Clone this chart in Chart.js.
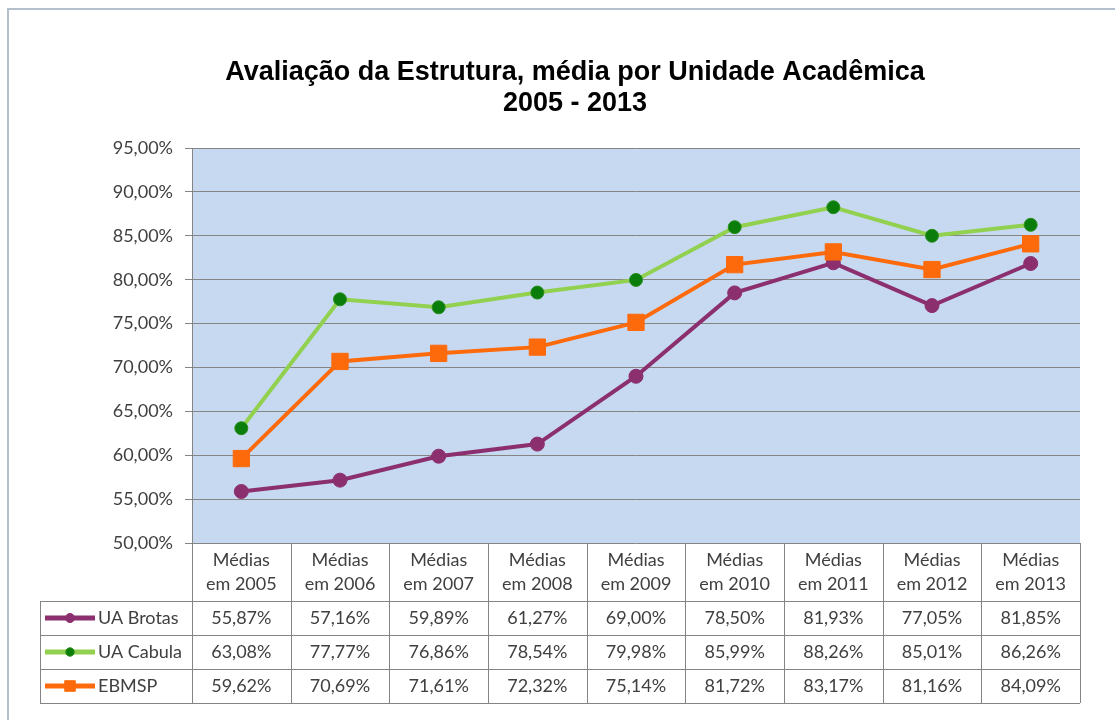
<!DOCTYPE html>
<html>
<head>
<meta charset="utf-8">
<script src="https://cdn.jsdelivr.net/npm/chart.js@4.4.1/dist/chart.umd.min.js"></script>
<style>
  body { margin: 0; background: #fff; }
  #wrap { width: 1115px; height: 720px; }
</style>
</head>
<body>
<div id="wrap"><canvas id="chart" width="1115" height="720"></canvas></div>
<script>
// categories (two lines each, like the Excel data table header)
const years = ['2005', '2006', '2007', '2008', '2009', '2010', '2011', '2012', '2013']
const categories = years.map(y => ['Médias', 'em ' + y])

const seriesNames = ['UA Brotas', 'UA Cabula', 'EBMSP']
const brotas = [55.87, 57.16, 59.89, 61.27, 69.00, 78.50, 81.93, 77.05, 81.85]
const cabula = [63.08, 77.77, 76.86, 78.54, 79.98, 85.99, 88.26, 85.01, 86.26]
const ebmsp = [59.62, 70.69, 71.61, 72.32, 75.14, 81.72, 83.17, 81.16, 84.09]

const yMin = 50
const yMax = 95
const yStep = 5

const fmt = v => v.toFixed(2).replace('.', ',') + '%'
const textFont = '18px Lato'
const textColor = '#404040'
const lineGray = '#858585'

// plot area background + outer frame
const background = {
    id: 'background',
    beforeDraw(chart) {
        const ctx = chart.ctx
        const a = chart.chartArea
        ctx.save()
        ctx.strokeStyle = '#b3bfcd'
        ctx.lineWidth = 2
        ctx.strokeRect(8, 9, 1200, 800)
        ctx.fillStyle = '#c6d9f1'
        ctx.fillRect(a.left, a.top, a.right - a.left, a.bottom - a.top)
        ctx.restore()
    }
}

// data table under the plot, columns taken from the x scale
const dataTable = {
    id: 'dataTable',
    afterDraw(chart) {
        const ctx = chart.ctx
        const x = chart.scales.x
        const a = chart.chartArea
        const n = categories.length
        const step = (a.right - a.left) / n
        const top = a.bottom
        const headH = 58
        const rowH = 34
        const keyLeft = 40
        const bottom = top + headH + rowH * 3

        ctx.save()
        ctx.strokeStyle = lineGray
        ctx.lineWidth = 1
        ctx.beginPath()
        // vertical lines of category columns
        for (let i = 0; i <= n; i++) {
            const px = Math.round(a.left + i * step) + 0.5
            ctx.moveTo(px, top)
            ctx.lineTo(px, bottom)
        }
        ctx.moveTo(keyLeft + 0.5, top + headH)
        ctx.lineTo(keyLeft + 0.5, bottom)
        // horizontal lines
        for (let r = 0; r <= 3; r++) {
            const py = Math.round(top + headH + r * rowH) + 0.5
            ctx.moveTo(keyLeft, py)
            ctx.lineTo(a.right, py)
        }
        ctx.stroke()

        ctx.font = textFont
        ctx.fillStyle = textColor
        ctx.textAlign = 'center'
        ctx.textBaseline = 'middle'
        categories.forEach((lab, i) => {
            const cx = x.getPixelForValue(i)
            ctx.fillText(lab[0], cx, top + 17)
            ctx.fillText(lab[1], cx, top + 41)
        })

        const rows = [brotas, cabula, ebmsp]
        rows.forEach((vals, r) => {
            const cy = top + headH + r * rowH + rowH / 2
            vals.forEach((v, i) => {
                ctx.fillText(fmt(v), x.getPixelForValue(i), cy)
            })
        })

        // legend keys
        chart.data.datasets.forEach((ds, r) => {
            const cy = top + headH + r * rowH + rowH / 2
            ctx.strokeStyle = ds.borderColor
            ctx.lineWidth = 5
            ctx.beginPath()
            ctx.moveTo(45, cy)
            ctx.lineTo(95, cy)
            ctx.stroke()
            ctx.fillStyle = ds.pointBackgroundColor
            ctx.strokeStyle = ds.pointBorderColor
            ctx.lineWidth = 1
            Chart.helpers.drawPoint(ctx, {
                pointStyle: ds.pointStyle,
                radius: ds.pointRadius * 0.65,
                borderWidth: ds.pointBorderWidth,
                rotation: 0
            }, 70, cy)
            ctx.fillStyle = textColor
            ctx.textAlign = 'left'
            ctx.fillText(seriesNames[r], 98, cy)
        })
        ctx.restore()
    }
}

let ctx = document.getElementById('chart')

let chart = new Chart(ctx, {
    type: 'line',
    data: {
        labels: categories,
        datasets: [
            {
                label: seriesNames[0],
                data: brotas,
                order: 3,
                borderColor: '#8c2f6f',
                borderWidth: 4,
                pointStyle: 'circle',
                pointRadius: 7,
                pointBackgroundColor: '#8c2f6f',
                pointBorderColor: '#8c2f6f',
                pointBorderWidth: 1
            },
            {
                label: seriesNames[1],
                data: cabula,
                order: 2,
                borderColor: '#92d050',
                borderWidth: 4,
                pointStyle: 'circle',
                pointRadius: 6.5,
                pointBackgroundColor: '#0a7d0a',
                pointBorderColor: '#2a8f1a',
                pointBorderWidth: 1
            },
            {
                label: seriesNames[2],
                data: ebmsp,
                order: 1,
                borderColor: '#fd6a0b',
                borderWidth: 4,
                pointStyle: 'rect',
                pointRadius: 11.5,
                pointBackgroundColor: '#fd6a0b',
                pointBorderColor: '#fd6a0b',
                pointBorderWidth: 1
            }
        ]
    },
    options: {
        responsive: false,
        animation: false,
        layout: {
            padding: { left: 70, right: 35, top: 0, bottom: 0 }
        },
        plugins: {
            legend: { display: false },
            tooltip: { enabled: false },
            title: {
                display: true,
                text: ['Avaliação da Estrutura, média por Unidade Acadêmica', '2005 - 2013'],
                color: '#000',
                font: { family: 'Liberation Sans', size: 27, weight: 'bold', lineHeight: 1.15 },
                padding: { top: 57, bottom: 29 }
            }
        },
        scales: {
            x: {
                offset: true,
                grid: { display: false },
                border: { display: false },
                ticks: { display: false },
                afterFit: scale => { scale.height = 177 }
            },
            y: {
                min: yMin,
                max: yMax,
                afterFit: scale => { scale.width = 122 },
                border: { color: lineGray },
                grid: { color: lineGray, tickLength: 7 },
                ticks: {
                    stepSize: yStep,
                    padding: 12,
                    color: textColor,
                    font: { family: 'Lato', size: 18 },
                    callback: v => fmt(v)
                }
            }
        }
    },
    plugins: [background, dataTable]
})
</script>
</body>
</html>
